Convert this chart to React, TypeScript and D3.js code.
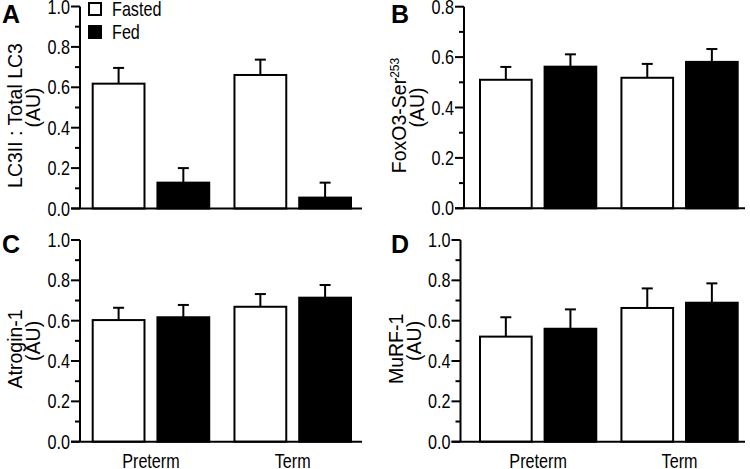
import React from "react";
import * as d3 from "d3";

const groups = ["Preterm", "Term"];
const conditions = ["Fasted", "Fed"];

const lc3Fasted = [0.618, 0.661];
const lc3Fed = [0.128, 0.054];
const lc3FastedErr = [0.078, 0.076];
const lc3FedErr = [0.072, 0.074];

const foxoFasted = [0.51, 0.518];
const foxoFed = [0.562, 0.581];
const foxoFastedErr = [0.051, 0.055];
const foxoFedErr = [0.049, 0.051];

const atroginFasted = [0.603, 0.669];
const atroginFed = [0.617, 0.714];
const atroginFastedErr = [0.061, 0.063];
const atroginFedErr = [0.061, 0.063];

const murfFasted = [0.521, 0.663];
const murfFed = [0.56, 0.689];
const murfFastedErr = [0.096, 0.097];
const murfFedErr = [0.096, 0.096];

const ticksTo1 = ["0.0", "0.2", "0.4", "0.6", "0.8", "1.0"];
const ticksTo08 = ["0.0", "0.2", "0.4", "0.6", "0.8"];

const FONT = "'Liberation Sans', Arial, Helvetica, sans-serif";
const NARROW = 0.83;

type PanelDef = {
  letter: string;
  title: React.ReactNode;
  fasted: number[];
  fed: number[];
  fastedErr: number[];
  fedErr: number[];
  ticks: string[];
  axisX: number;
  axisEnd: number;
  barL: number;
  barR: number;
  yTop: number;
  yBot: number;
  letterX: number;
  letterY: number;
  showX: boolean;
  legend: boolean;
};

const panels: PanelDef[] = [
  {
    letter: "A",
    title: "LC3II : Total LC3",
    fasted: lc3Fasted, fed: lc3Fed, fastedErr: lc3FastedErr, fedErr: lc3FedErr,
    ticks: ticksTo1,
    axisX: 80, axisEnd: 362, barL: 92.7, barR: 351,
    yTop: 6.5, yBot: 208.5, letterX: 2, letterY: 23, showX: false, legend: true,
  },
  {
    letter: "B",
    title: (
      <>
        FoxO3-Ser<tspan dy={-7} fontSize={12}>253</tspan>
      </>
    ),
    fasted: foxoFasted, fed: foxoFed, fastedErr: foxoFastedErr, fedErr: foxoFedErr,
    ticks: ticksTo08,
    axisX: 464, axisEnd: 745, barL: 480, barR: 737.7,
    yTop: 6.7, yBot: 208.3, letterX: 391, letterY: 23, showX: false, legend: false,
  },
  {
    letter: "C",
    title: "Atrogin-1",
    fasted: atroginFasted, fed: atroginFed, fastedErr: atroginFastedErr, fedErr: atroginFedErr,
    ticks: ticksTo1,
    axisX: 80, axisEnd: 362, barL: 92.7, barR: 351,
    yTop: 240, yBot: 441.7, letterX: 2, letterY: 253, showX: true, legend: false,
  },
  {
    letter: "D",
    title: "MuRF-1",
    fasted: murfFasted, fed: murfFed, fastedErr: murfFastedErr, fedErr: murfFedErr,
    ticks: ticksTo1,
    axisX: 460.5, axisEnd: 745, barL: 480, barR: 737.7,
    yTop: 240, yBot: 441.7, letterX: 391, letterY: 253, showX: true, legend: false,
  },
];

function NText({
  x,
  y,
  anchor = "start",
  size = 19.5,
  dy,
  children,
}: {
  x: number;
  y: number;
  anchor?: "start" | "middle" | "end";
  size?: number;
  dy?: string;
  children: React.ReactNode;
}) {
  return (
    <text
      transform={`translate(${x},${y}) scale(${NARROW},1)`}
      dy={dy}
      textAnchor={anchor}
      fontFamily={FONT}
      fontSize={size}
      fill="#000"
    >
      {children}
    </text>
  );
}

function Panel({ p }: { p: PanelDef }) {
  const maxV = +p.ticks[p.ticks.length - 1];
  const y = d3.scaleLinear().domain([0, maxV]).range([p.yBot, p.yTop]);
  const x0 = d3.scaleBand<string>().domain(groups).range([p.barL, p.barR]).paddingInner(0.178).paddingOuter(0);
  const x1 = d3.scaleBand<string>().domain(conditions).range([0, x0.bandwidth()]).paddingInner(0.2).paddingOuter(0);
  const minorTicks = d3.range(0, Math.round(maxV * 10) + 1).map((i) => i / 10);
  const midY = (p.yTop + p.yBot) / 2;
  const titleX1 = p.axisX - 58;
  const titleX2 = p.axisX - 40;
  const sw = 2;
  const bars: { g: string; c: string; v: number; e: number }[] = [];
  groups.forEach((g, gi) => {
    bars.push({ g, c: "Fasted", v: p.fasted[gi], e: p.fastedErr[gi] });
    bars.push({ g, c: "Fed", v: p.fed[gi], e: p.fedErr[gi] });
  });
  return (
    <g>
      <text x={p.letterX} y={p.letterY} fontFamily={FONT} fontWeight="bold" fontSize={25} fill="#000">
        {p.letter}
      </text>
      <text
        transform={`translate(${titleX1},${midY + 8}) rotate(-90)`}
        textAnchor="middle"
        fontFamily={FONT}
        fontSize={19.5}
        fill="#000"
      >
        {p.title}
      </text>
      <text
        transform={`translate(${titleX2},${midY}) rotate(-90)`}
        textAnchor="middle"
        fontFamily={FONT}
        fontSize={19.5}
        fill="#000"
      >
        (AU)
      </text>
      {bars.map((b, i) => {
        const cx = (x0(b.g) as number) + (x1(b.c) as number) + x1.bandwidth() / 2;
        return (
          <g key={"e" + i} stroke="#000" strokeWidth={sw}>
            <line x1={cx} x2={cx} y1={y(b.v)} y2={y(b.v + b.e)} />
            <line x1={cx - 5.5} x2={cx + 5.5} y1={y(b.v + b.e)} y2={y(b.v + b.e)} />
          </g>
        );
      })}
      {bars.map((b, i) => {
        const bx = (x0(b.g) as number) + (x1(b.c) as number);
        return (
          <rect
            key={"b" + i}
            x={bx}
            y={y(b.v)}
            width={x1.bandwidth()}
            height={p.yBot - y(b.v)}
            fill={b.c === "Fasted" ? "#fff" : "#000"}
            stroke="#000"
            strokeWidth={sw}
          />
        );
      })}
      <line x1={p.axisX} x2={p.axisX} y1={p.yTop} y2={p.yBot} stroke="#000" strokeWidth={sw} />
      <line x1={p.axisX - 9} x2={p.axisEnd} y1={p.yBot} y2={p.yBot} stroke="#000" strokeWidth={sw} />
      {minorTicks.map((t, i) => {
        const major = i % 2 === 0;
        return (
          <line
            key={"t" + i}
            x1={p.axisX - (major ? 9 : 5)}
            x2={p.axisX}
            y1={y(t)}
            y2={y(t)}
            stroke="#000"
            strokeWidth={sw}
          />
        );
      })}
      {p.ticks.map((t) => (
        <NText key={t} x={p.axisX - 10} y={y(+t)} dy="0.36em" anchor="end">
          {t}
        </NText>
      ))}
      {p.showX &&
        groups.map((g) => (
          <NText key={g} x={(x0(g) as number) + x0.bandwidth() / 2} y={468} anchor="middle">
            {g}
          </NText>
        ))}
      {p.legend && (
        <g>
          {conditions.map((c, i) => (
            <g key={c}>
              <rect
                x={89}
                y={3 + i * 23}
                width={12}
                height={12}
                fill={c === "Fasted" ? "#fff" : "#000"}
                stroke="#000"
                strokeWidth={sw}
              />
              <NText x={112} y={16 + i * 23}>
                {c}
              </NText>
            </g>
          ))}
        </g>
      )}
    </g>
  );
}

export default function App() {
  return (
    <svg
      width={750}
      height={469}
      viewBox="0 0 750 469"
      style={{ position: "absolute", left: 0, top: 0, background: "#fff" }}
    >
      <rect width={750} height={469} fill="#fff" />
      {panels.map((p) => (
        <Panel key={p.letter} p={p} />
      ))}
    </svg>
  );
}
